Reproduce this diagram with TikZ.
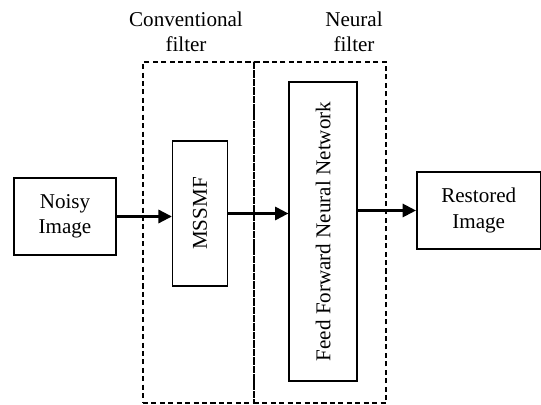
\documentclass[tikz,border=0pt]{standalone}
\usepackage{fontspec}
\setmainfont{Liberation Serif}
\usepackage{graphicx}
\usepackage{tikz}
\usetikzlibrary{arrows.meta, positioning}

\begin{document}
\begin{tikzpicture}[
        x=0.025cm, y=-0.025cm,
        base/.style={
            draw, align=center, inner sep=0pt, line width=1.1pt,
            font=\fontsize{15}{18}\selectfont
        },
        io/.style={base, minimum width=2.55cm, minimum height=1.925cm},
        filt/.style={base},
        frame/.style={draw, line width=0.9pt, dash pattern=on 3.6pt off 2.4pt},
        lbl/.style={align=center, inner sep=0pt, font=\fontsize{15}{18}\selectfont},
        arrow/.style={line width=1.5pt, -{Triangle[length=9.5pt, width=9.5pt]}}
    ]

        \useasboundingbox (0,0) rectangle (541,405);

        % Frames
        \node[frame, minimum width=2.775cm, minimum height=8.525cm] (convbox) at (198.5,232.5) {};
        \node[frame, minimum width=3.3cm, minimum height=8.525cm] (neurbox) at (320,232.5) {};

        \node[lbl] (convlbl) at (186,32) {Conventional \\ filter};
        \node[lbl] (neurlbl) at (354,32) {Neural \\ filter};

        % Blocks
        \node[io] (noisy) at (65,216.5) {Noisy \\ Image};

        \node[filt, minimum width=1.375cm, minimum height=3.625cm,
              right=1.375cm of noisy, yshift=0.075cm] (mssmf) {\rotatebox{90}{MSSMF}};

        \node[filt, minimum width=1.7cm, minimum height=7.475cm,
              right=1.5cm of mssmf, yshift=-0.45cm] (ffnn) {\rotatebox{90}{Feed Forward Neural Network}};

        \node[io, minimum width=3.1cm, right=1.45cm of ffnn, yshift=0.525cm] (rest) {Restored \\ Image};

        % Arrows
        \draw[arrow] (noisy) -- (noisy -| mssmf.west);
        \draw[arrow] (mssmf) -- (mssmf -| ffnn.west);
        \draw[arrow] (ffnn.east |- rest) -- (rest);

    \end{tikzpicture}
\end{document}
